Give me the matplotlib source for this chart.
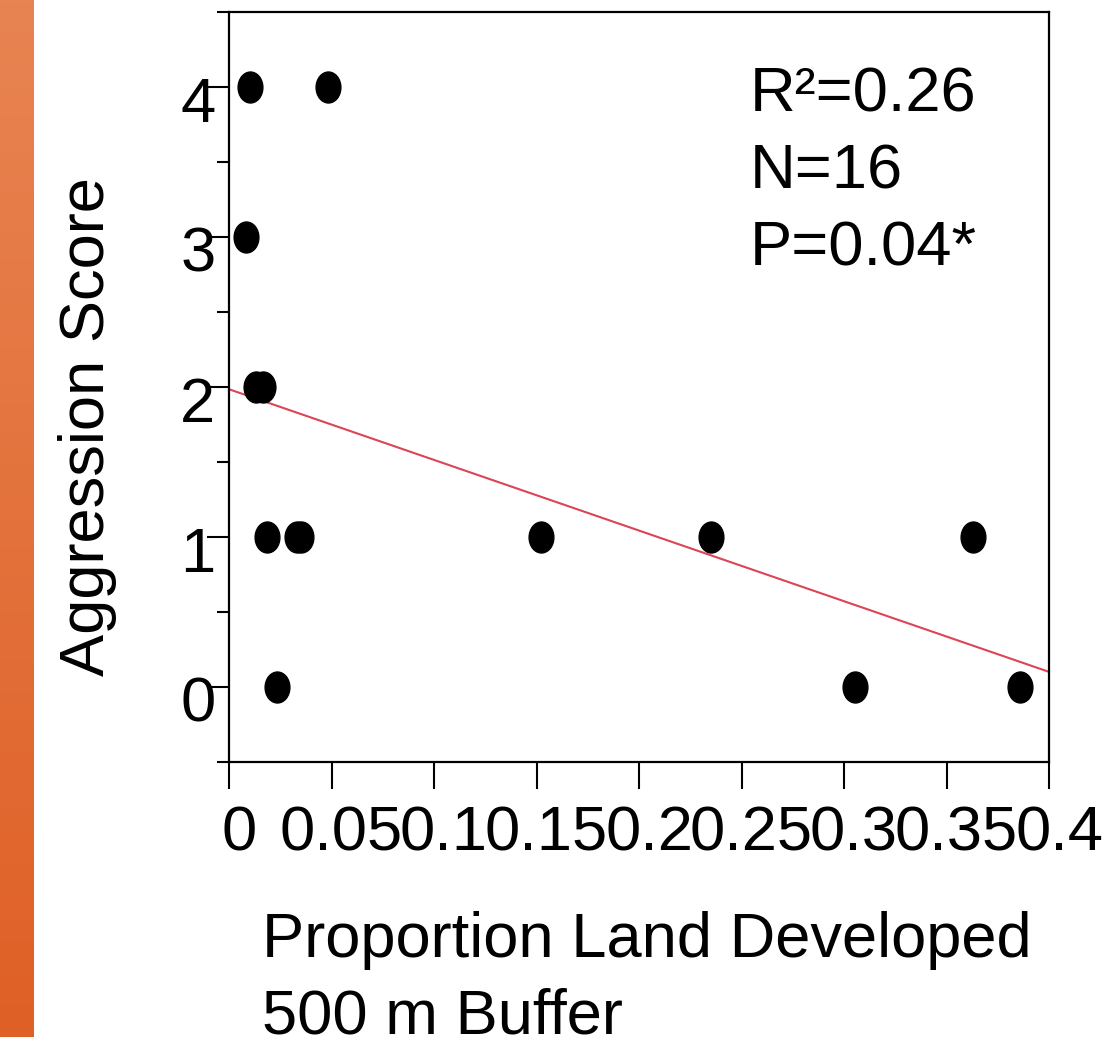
import numpy as np
import matplotlib
matplotlib.use("Agg")
import matplotlib.pyplot as plt
from matplotlib.path import Path
from matplotlib.transforms import Affine2D, ScaledTranslation

plt.rcParams['font.family'] = ['Liberation Sans', 'DejaVu Sans']

# ---- data ----
land_developed = [0.0100, 0.0482, 0.0083, 0.0132, 0.0166, 0.0183, 0.0331, 0.0351,
                  0.1520, 0.2350, 0.3629, 0.0234, 0.3052, 0.3858]
aggression = [4, 4, 3, 2, 2, 1, 1, 1, 1, 1, 1, 0, 0, 0]
fit_intercept = 1.985
fit_slope = -4.71
x_ticks = [0, 0.05, 0.10, 0.15, 0.20, 0.25, 0.30, 0.35, 0.40]
x_tick_labels = ['0', '0.05', '0.1', '0.15', '0.2', '0.25', '0.3', '0.35', '0.4']
y_ticks = [0, 1, 2, 3, 4]
y_minor = [-0.5, 0.5, 1.5, 2.5, 3.5, 4.5]
stats_lines = ['R²=0.26', 'N=16', 'P=0.04*']

W, H = 1110, 1037
fig = plt.figure(figsize=(W / 100, H / 100), dpi=100)

# orange side bar
bar_ax = fig.add_axes([0, 0, 34 / W, 1])
top_c = np.array([232, 132, 82]) / 255
bot_c = np.array([223, 96, 38]) / 255
t = np.linspace(0, 1, 256)[:, None]
grad = top_c[None, None, :] * (1 - t[:, :, None]) + bot_c[None, None, :] * t[:, :, None]
bar_ax.imshow(grad, aspect='auto', extent=[0, 1, 0, 1])
bar_ax.axis('off')

L, R, B, T = 229, 1049, 762, 12
ax = fig.add_axes([L / W, (H - B) / H, (R - L) / W, (B - T) / H])

ell = Path.unit_circle().transformed(Affine2D().scale(0.80, 1.0))
ax.plot(land_developed, aggression, linestyle='none', marker=ell,
        markersize=22.3, color='black', zorder=3)

xl = np.array([0, 0.4])
ax.plot(xl, fit_intercept + fit_slope * xl, color='#DD4455', lw=1.5, zorder=2,
        clip_on=False)

ax.set_xlim(0, 0.4)
ax.set_ylim(-0.5, 4.5)
ax.set_xticks(x_ticks)
ax.set_xticklabels(x_tick_labels)
ax.set_yticks(y_ticks)
ax.set_yticks(y_minor, minor=True)
ax.set_yticklabels([str(v) for v in y_ticks])

for s in ax.spines.values():
    s.set_linewidth(1.6)
ax.tick_params(axis='x', direction='out', length=19.5, width=1.5, labelsize=45.5, pad=11)
ax.tick_params(axis='y', which='major', direction='out', length=15.8, width=1.5,
               labelsize=45.5, pad=-6)
ax.tick_params(axis='y', which='minor', direction='out', length=8.6, width=1.5)

for lab in ax.get_xticklabels():
    lab.set_transform(lab.get_transform() + ScaledTranslation(0.10, 0, fig.dpi_scale_trans))
for lab in ax.get_yticklabels():
    lab.set_transform(lab.get_transform() + ScaledTranslation(0, -0.12, fig.dpi_scale_trans))

fig.text(117 / W, 1 - 427 / H, 'Aggression Score', rotation=90, fontsize=45.5,
         ha='right', va='center')
fig.text(262 / W, 1 - 957 / H, 'Proportion Land Developed', fontsize=45.5,
         ha='left', va='baseline')
fig.text(262 / W, 1 - 1033 / H, '500 m Buffer', fontsize=45.5,
         ha='left', va='baseline')

for i, line in enumerate(stats_lines):
    fig.text(750 / W, 1 - (112 + 76.5 * i) / H, line, fontsize=45.5,
             ha='left', va='baseline')

fig.savefig('out.png', dpi=100)
